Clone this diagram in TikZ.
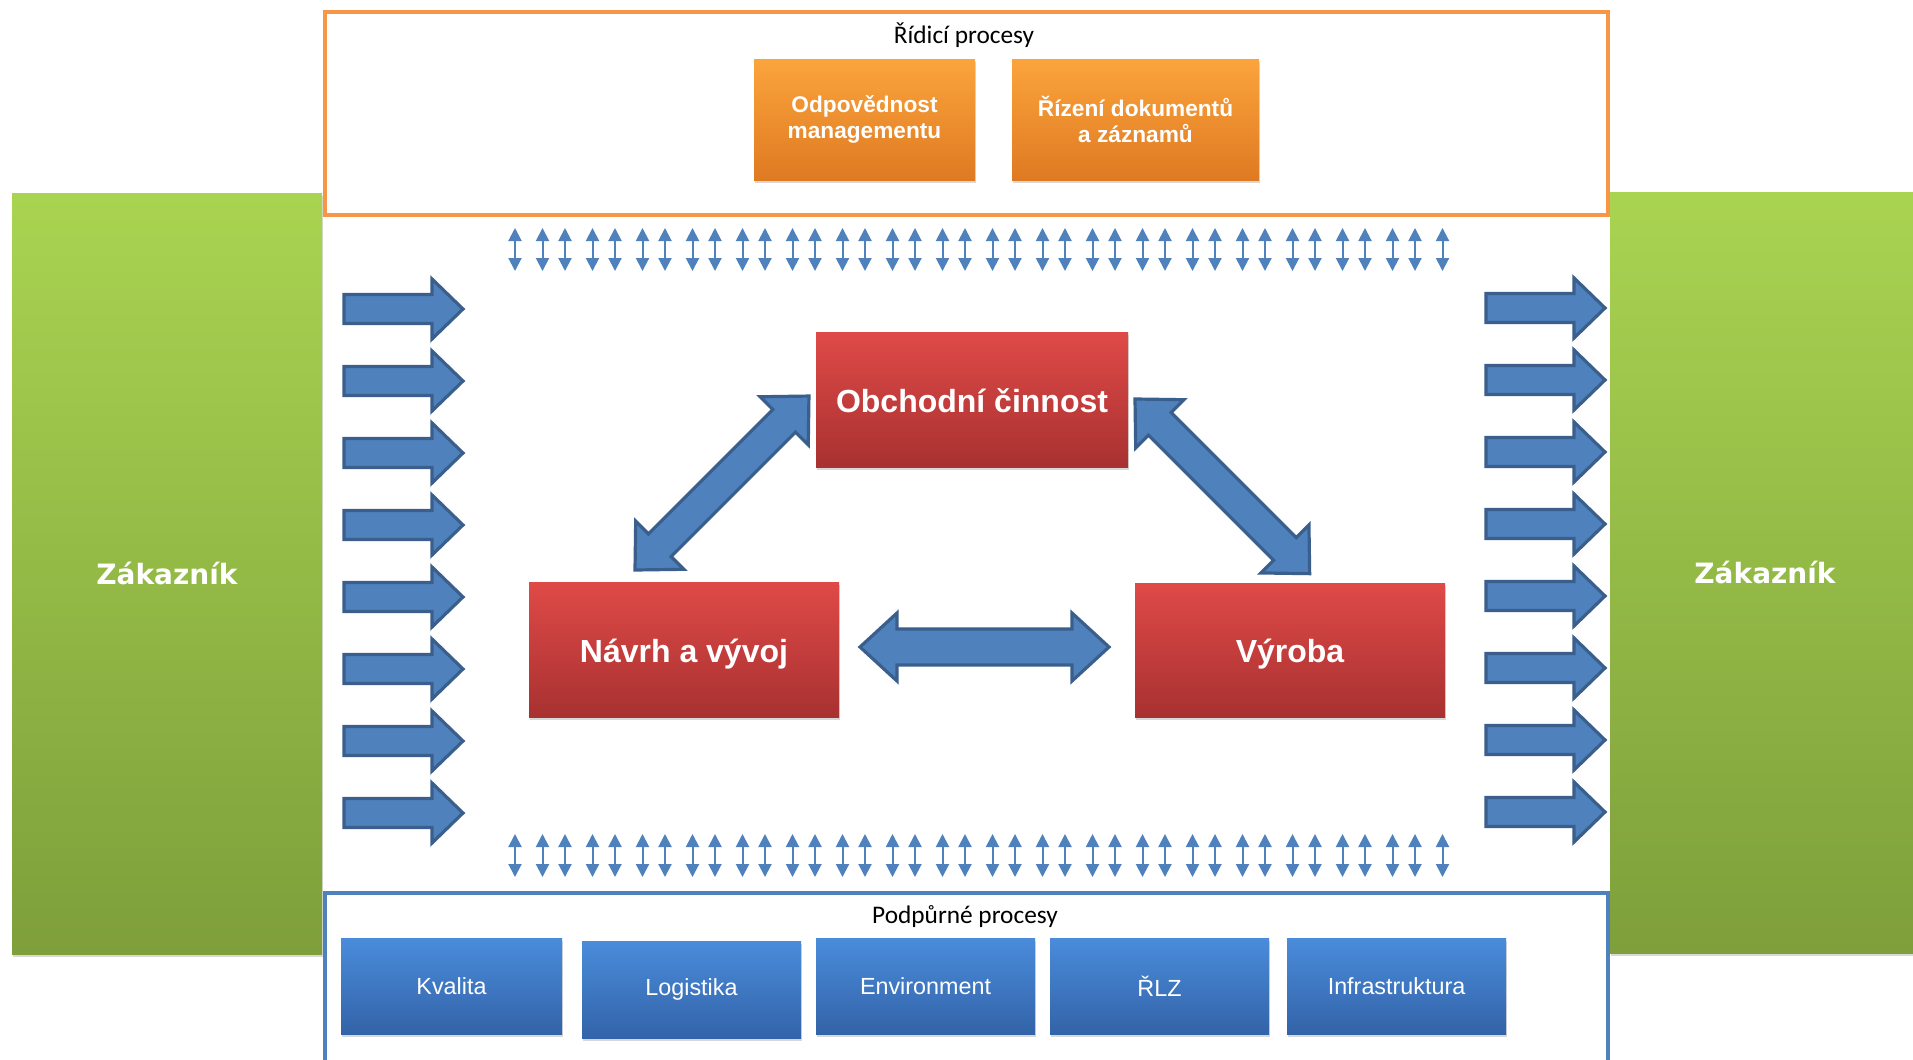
\documentclass[tikz,border=0pt]{standalone}
\usepackage{fontspec}
\setmainfont{Liberation Sans}
\newfontfamily\calibfont{Carlito}
\newfontfamily\dejafont{DejaVu Sans}
\usetikzlibrary{arrows.meta,shadows,calc}

\definecolor{frameorange}{HTML}{F79646}
\definecolor{frameblue}{HTML}{4F81BD}
\definecolor{arrowfill}{HTML}{4F81BD}
\definecolor{arrowline}{HTML}{3A5F8C}
\definecolor{greenT}{HTML}{A9D451}
\definecolor{greenB}{HTML}{7E9F3B}
\definecolor{orT}{HTML}{FBA43C}
\definecolor{orB}{HTML}{DF7A22}
\definecolor{redT}{HTML}{DF4A47}
\definecolor{redB}{HTML}{A83131}
\definecolor{bluT}{HTML}{4A8CDB}
\definecolor{bluB}{HTML}{3363A8}

\newcommand\twowayarrow[6]{% at, angle, length, shaft half, head half, head length
  \begin{scope}[shift={(#1)}, rotate=#2]
    \draw[blockarrow] (0,0) -- (#6,#5) -- (#6,#4) -- ({#3-#6},#4) -- ({#3-#6},#5)
      -- (#3,0) -- ({#3-#6},-#5) -- ({#3-#6},-#4) -- (#6,-#4) -- (#6,-#5) -- cycle;
  \end{scope}}
\newcommand\onewayarrow[5]{% at, length, shaft half, head half, head length
  \begin{scope}[shift={(#1)}]
    \draw[blockarrow] (0,-#3) -- ({#2-#5},-#3) -- ({#2-#5},-#4) -- (#2,0)
      -- ({#2-#5},#4) -- ({#2-#5},#3) -- (0,#3) -- cycle;
  \end{scope}}

\begin{document}
\begin{tikzpicture}[x=0.75pt,y=-0.75pt,
  wh/.style 2 args={minimum width=#1*0.75pt, minimum height=#2*0.75pt},
  box/.style={rectangle, inner sep=0pt, outer sep=0pt, align=center, text=white},
  shad/.style={drop shadow={shadow xshift=0.5pt, shadow yshift=-2.5pt, opacity=0.3}},
  greenbox/.style={box, top color=greenT, bottom color=greenB, shad,
     font=\dejafont\bfseries\fontsize{21}{25}\selectfont},
  orangebox/.style={box, top color=orT, bottom color=orB, shad,
     font=\bfseries\fontsize{17}{20}\selectfont},
  redbox/.style={box, top color=redT, bottom color=redB, shad,
     text height=19pt, text depth=0pt,
     font=\bfseries\fontsize{24}{28}\selectfont},
  bluebox/.style={box, top color=bluT, bottom color=bluB, shad,
     font=\fontsize{17.5}{21}\selectfont},
  frame/.style={rectangle, inner sep=0pt, outer sep=0pt, line width=3pt},
  title/.style={font=\calibfont\fontsize{19}{22}\selectfont, inner sep=0pt},
  blockarrow/.style={fill=arrowfill, draw=arrowline, line width=2.4pt, line join=miter},
  smalldbl/.style={draw=arrowfill, line width=1.5pt,
     {Triangle[width=9.75pt,length=9.75pt]}-{Triangle[width=9.75pt,length=9.75pt]}}
]
\useasboundingbox (0,0) rectangle (1913,1060);
\clip (0,0) rectangle (1913,1060);
\fill[white] (0,0) rectangle (1913,1060);

% customers
\node[greenbox, wh={310}{761}] (zakL) at (167,573.5) {Zákazník};
\node[greenbox, wh={310}{761}] (zakR) at (1765,572.5) {Zákazník};

% frames
\node[frame, draw=frameorange, wh={1283}{203}] (ridici) at (966.5,113.5) {};
\node[frame, draw=frameblue, wh={1283}{185}] (podpur) at (966.5,985.5) {};
\node[title] (ridT) at (964,35) {Řídicí procesy};
\node[title] (podT) at (965,917) {Podpůrné procesy};

% control processes
\node[orangebox, wh={221}{121}] (odp) at (864.5,119.5) {Odpovědnost\\managementu};
\node[orangebox, wh={247}{121}] (riz) at (1135.5,119.5) {Řízení dokumentů\\a záznamů};

% main processes
\node[redbox, wh={312}{135}] (obch) at (972,399.5) {Obchodní činnost};
\node[redbox, wh={310}{135}] (navrh) at (684,649.5) {Návrh a vývoj};
\node[redbox, wh={310}{134}] (vyroba) at (1290,650) {Výroba};

% support processes
\node[bluebox, wh={221}{96}] (kval) at (451.5,986) {Kvalita};
\node[bluebox, wh={219}{97}] (logi) at (691.5,989.5) {Logistika};
\node[bluebox, wh={219}{96}] (env) at (925.5,986) {Environment};
\node[bluebox, wh={219}{96}] (rlz) at (1159.5,986) {ŘLZ};
\node[bluebox, wh={219}{96}] (infra) at (1396.5,986) {Infrastruktura};

% big two-way arrows between main processes
\coordinate (hA) at ($(navrh.east)+(21,-2.5)$);
\coordinate (dL) at ($(navrh.north west)+(106,-12)$);
\coordinate (dR) at ($(obch.east)+(7,-0.5)$);
\twowayarrow{hA}{0}{249}{18}{34}{37}
\twowayarrow{dL}{45}{246}{16}{34}{35}
\twowayarrow{dR}{-45}{247}{16}{34}{35}

% customer arrows
\foreach \i in {0,...,7}{
  \coordinate (la\i) at (344,{309+72*\i});
  \coordinate (ra\i) at (1486,{308+72*\i});
  \onewayarrow{la\i}{119}{14.5}{30}{31}
  \onewayarrow{ra\i}{119}{14.5}{30}{31}
}

% small two-way arrows
\foreach \i in {0,...,37}{
  \pgfmathsetmacro\xx{515+floor((\i+1)/2)*27.5+floor(\i/2)*22.5}
  \coordinate (ut\i) at (\xx,228);
  \coordinate (ub\i) at (\xx,271);
  \coordinate (lt\i) at (\xx,834);
  \coordinate (lb\i) at (\xx,877);
  \draw[smalldbl] (ut\i) -- (ub\i);
  \draw[smalldbl] (lt\i) -- (lb\i);
}
\end{tikzpicture}
\end{document}
